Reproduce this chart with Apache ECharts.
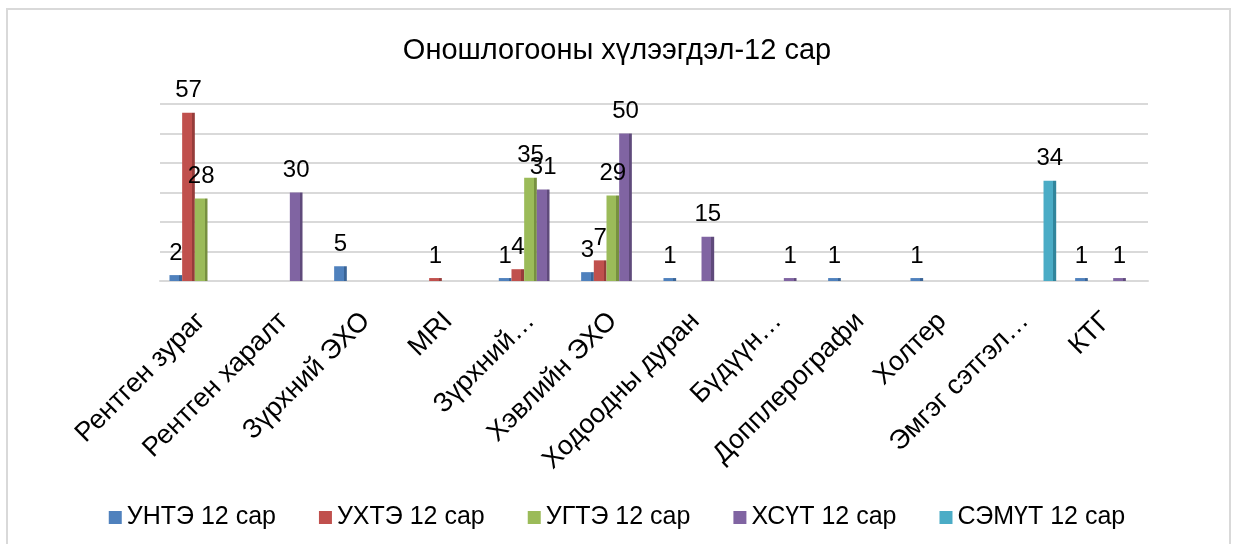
<!DOCTYPE html>
<html>
<head>
<meta charset="utf-8">
<script src="https://cdn.jsdelivr.net/npm/echarts@6/dist/echarts.min.js"></script>
<style>
  html, body { margin: 0; padding: 0; background: #fff; }
  #chart { width: 1234px; height: 544px; }
</style>
</head>
<body>
<div id="chart"></div>
<script>
let categories = ['Рентген зураг', 'Рентген харалт', 'Зүрхний ЭХО', 'MRI', 'Зүрхний…', 'Хэвлийн ЭХО',
                  'Ходоодны дуран', 'Бүдүүн…', 'Допплерографи', 'Холтер', 'Эмгэг сэтгэл…', 'КТГ'];
let seriesNames = ['УНТЭ 12 сар', 'УХТЭ 12 сар', 'УГТЭ 12 сар', 'ХСҮТ 12 сар', 'СЭМҮТ 12 сар'];

let untData   = [2, null, 5, null, 1, 3, 1, null, 1, 1, null, 1];
let uhtData   = [57, null, null, 1, 4, 7, null, null, null, null, null, null];
let ugtData   = [28, null, null, null, 35, 29, null, null, null, null, null, null];
let hsutData  = [null, 30, null, null, 31, 50, 15, 1, null, null, null, 1];
let semutData = [null, null, null, null, null, null, null, null, null, null, 34, null];

let colors = ['#4F81BD', '#C0504D', '#9BBB59', '#8064A2', '#4BACC6'];
let sideColors = ['#3A6496', '#963C3A', '#779040', '#5F4A7B', '#31859C'];
let allData = [untData, uhtData, ugtData, hsutData, semutData];

let font = 'Liberation Sans, Arial, sans-serif';

function makeSeries(i) {
    return {
        name: seriesNames[i],
        type: 'bar',
        barGap: 0,
        barCategoryGap: '23%',
        itemStyle: {
            color: {
                type: 'linear', x: 0, y: 0, x2: 1, y2: 0,
                colorStops: [
                    { offset: 0, color: colors[i] },
                    { offset: 0.78, color: colors[i] },
                    { offset: 0.78, color: sideColors[i] },
                    { offset: 1, color: sideColors[i] }
                ]
            }
        },
        label: {
            show: true,
            position: 'top',
            distance: 10,
            fontFamily: font,
            fontSize: 24,
            color: '#000'
        },
        data: allData[i]
    };
}

let chart = echarts.init(document.getElementById('chart'));
chart.setOption({
    animation: false,
    color: colors,
    title: {
        text: 'Оношлогооны хүлээгдэл-12 сар',
        left: 'center',
        top: 31,
        textStyle: { fontFamily: font, fontSize: 29, fontWeight: 'normal', color: '#000' }
    },
    legend: {
        bottom: 9,
        left: 'center',
        icon: 'rect',
        itemWidth: 13,
        itemHeight: 13,
        itemGap: 43,
        textStyle: { fontFamily: font, fontSize: 25, color: '#000' },
        data: seriesNames.map(function (name, i) {
            return { name: name, itemStyle: { color: colors[i] } };
        })
    },
    grid: { left: 160, right: 86, top: 104, bottom: 263 },
    xAxis: {
        type: 'category',
        data: categories,
        axisLine: { lineStyle: { color: '#d9d9d9', width: 2 } },
        axisTick: { show: false },
        axisLabel: {
            interval: 0,
            rotate: 45,
            margin: 36,
            fontFamily: font,
            fontSize: 27,
            color: '#000'
        }
    },
    yAxis: {
        type: 'value',
        min: 0,
        max: 60,
        interval: 10,
        axisLabel: { show: false },
        axisLine: { show: false },
        axisTick: { show: false },
        splitLine: { lineStyle: { color: '#d9d9d9', width: 2 } }
    },
    graphic: [{
        type: 'rect',
        shape: { x: 7, y: 9, width: 1223, height: 600 },
        style: { fill: 'none', stroke: '#d9d9d9', lineWidth: 2 },
        silent: true
    }],
    series: [0, 1, 2, 3, 4].map(makeSeries)
});
</script>
</body>
</html>
